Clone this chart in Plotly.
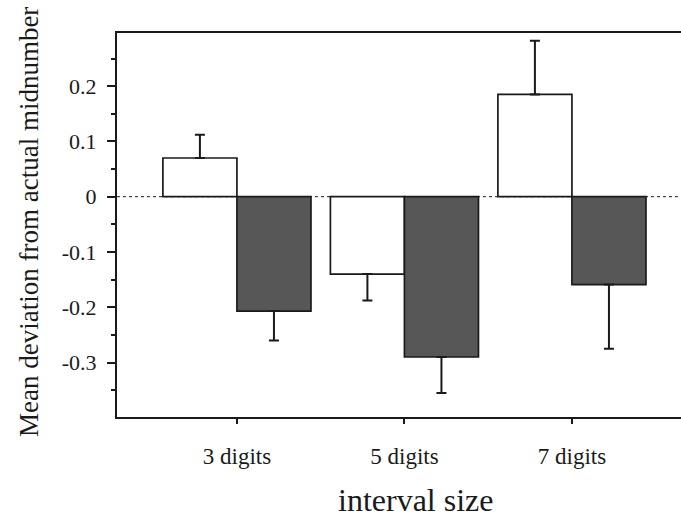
import plotly.graph_objects as go

categories = ["3 digits", "5 digits", "7 digits"]
white_vals = [0.070, -0.140, 0.185]
white_err = [0.042, 0.048, 0.097]
dark_vals = [-0.207, -0.290, -0.159]
dark_err = [0.053, 0.065, 0.116]
ytick_vals = [0.2, 0.1, 0.0, -0.1, -0.2, -0.3]
ytick_text = ["0.2", "0.1", "0", "-0.1", "-0.2", "-0.3"]

FONT = "Liberation Serif"
INK = "#1a1a1a"
W = 681
H = 524
L = 117


def split_err(vals, errs):
    up = [e if v >= 0 else 0 for v, e in zip(vals, errs)]
    down = [e if v < 0 else 0 for v, e in zip(vals, errs)]
    return up, down


wu, wd = split_err(white_vals, white_err)
du, dd = split_err(dark_vals, dark_err)

fig = go.Figure()
fig.add_trace(go.Bar(
    x=categories, y=white_vals,
    marker=dict(color="white", line=dict(color=INK, width=1.7)),
    error_y=dict(type="data", symmetric=False, array=wu, arrayminus=wd,
                 color=INK, thickness=2, width=5),
    showlegend=False,
))
fig.add_trace(go.Bar(
    x=categories, y=dark_vals,
    marker=dict(color="#575757", line=dict(color=INK, width=1.7)),
    error_y=dict(type="data", symmetric=False, array=du, arrayminus=dd,
                 color=INK, thickness=2, width=5),
    showlegend=False,
))

fig.add_shape(type="line", xref="paper", yref="y", x0=0, x1=1, y0=0, y1=0,
              line=dict(color=INK, width=1, dash="dot"), layer="below")

PW = W - L
fig.add_annotation(text="interval size", xref="paper", yref="paper",
                   x=(415 - L) / PW, y=-(500 - 417) / 384,
                   xanchor="center", yanchor="middle", showarrow=False,
                   font=dict(family=FONT, size=32, color=INK))
fig.add_annotation(text="Mean deviation from actual midnumber", xref="paper", yref="paper",
                   x=-(L - 29) / PW, y=(417 - 222) / 384, textangle=-90,
                   xanchor="center", yanchor="middle", showarrow=False,
                   font=dict(family=FONT, size=27, color=INK))

fig.update_layout(
    width=W, height=H,
    margin=dict(l=L, r=0, t=33, b=107, autoexpand=False),
    paper_bgcolor="white", plot_bgcolor="white",
    barmode="group", bargap=0.116, bargroupgap=0,
    font=dict(family=FONT, color=INK),
    xaxis=dict(
        range=[-0.716, -0.716 + PW / 167.5], showline=True, mirror=True, linecolor=INK, linewidth=2,
        ticks="outside", ticklen=5, tickwidth=2, tickcolor=INK,
        tickfont=dict(family=FONT, size=23, color=INK), showgrid=False,
        ticklabelstandoff=12, automargin=False,
    ),
    yaxis=dict(
        range=[-0.3986, 0.2962], showline=True, mirror=False, linecolor=INK, linewidth=2,
        tickvals=ytick_vals, ticktext=ytick_text,
        ticks="outside", ticklen=8, tickwidth=2, tickcolor=INK,
        minor=dict(dtick=0.05, tick0=0.05, ticks="outside", ticklen=4, tickwidth=2, tickcolor=INK, showgrid=False),
        tickfont=dict(family=FONT, size=22, color=INK), showgrid=False, zeroline=False,
        ticklabelstandoff=6, automargin=False,
    ),
)

fig.write_html(
    "out.html",
    config={"displayModeBar": False},
    post_script=(
        "document.documentElement.style.overflow='hidden';"
        "document.documentElement.style.margin='0';"
        "document.body.style.margin='0';"
        "document.body.style.overflow='hidden';"
    ),
)
